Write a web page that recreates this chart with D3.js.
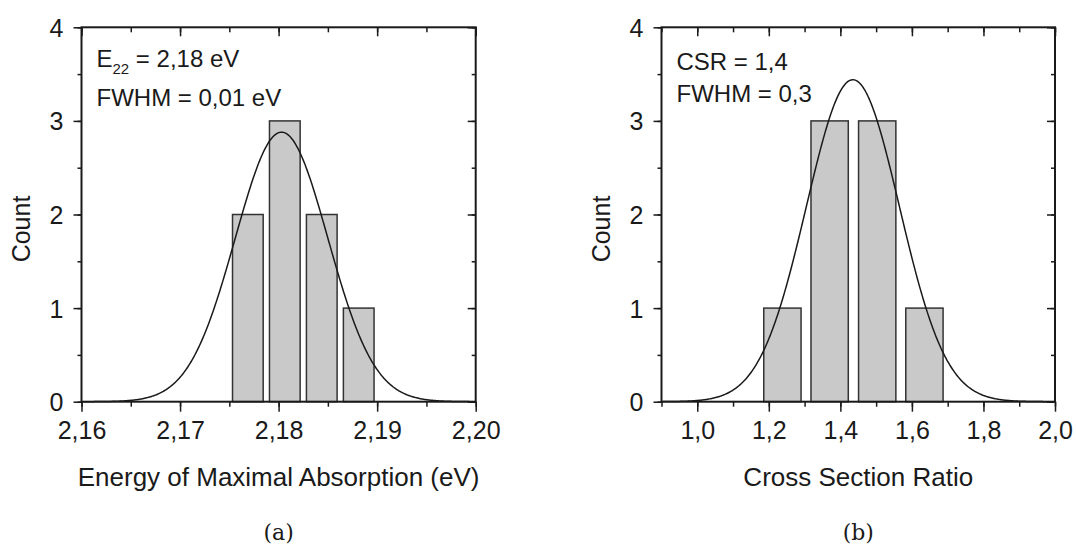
<!DOCTYPE html>
<html>
<head>
<meta charset="utf-8">
<script src="https://cdn.jsdelivr.net/npm/d3@7"></script>
<style>
  body { margin: 0; background: #fff; }
  svg { display: block; }
  .axis text { font-family: "Liberation Sans", Arial, sans-serif; font-size: 25px; fill: #1a1a1a; }
  .axis line { stroke: #1a1a1a; stroke-width: 1.5px; }
  .axis path { display: none; }
</style>
</head>
<body>
<div id="chart"></div>
<script>
// histogram (a): energy of maximal absorption
const energyBins = [2.17688, 2.18063, 2.18438, 2.18813];   // bin centres (eV)
const energyCounts = [2, 3, 2, 1];
const energyTicks = [2.16, 2.17, 2.18, 2.19, 2.20];
const energyFit = [2.1803, 2.88, 0.0047];   // gauss fit: centre, height, sigma

// histogram (b): cross section ratio
const ratioBins = [1.238, 1.370, 1.503, 1.635];
const ratioCounts = [1, 3, 3, 1];
const ratioTicks = [1.0, 1.2, 1.4, 1.6, 1.8, 2.0];
const ratioFit = [1.435, 3.44, 0.13];

const countTicks = [0, 1, 2, 3, 4];

const width = 1076, height = 550;

const svg = d3.select("#chart")
    .append("svg")
    .attr("width", width)
    .attr("height", height);

function drawPanel(p) {
    const x = d3.scaleLinear().domain(p.domain).range([p.left, p.right]);
    const y = d3.scaleLinear().domain([0, 4]).range([401.7, 27.3]);
    const g = svg.append("g");

    // bars
    const step = p.bins[1] - p.bins[0];
    const bw = step * p.barFrac;
    g.selectAll("rect.bar")
        .data(p.bins.map((b, i) => ({ b: b, c: p.counts[i] })))
        .enter()
        .append("rect")
        .attr("class", "bar")
        .attr("x", d => x(d.b - bw / 2))
        .attr("width", d => x(d.b + bw / 2) - x(d.b - bw / 2))
        .attr("y", d => y(d.c))
        .attr("height", d => y(0) - y(d.c))
        .attr("fill", "#c9c9c9")
        .attr("stroke", "#333")
        .attr("stroke-width", 1.5);

    // gaussian fit line
    const [c, h, s] = p.fit;
    const xs = d3.range(0, 401).map(i => p.domain[0] + (p.domain[1] - p.domain[0]) * i / 400);
    const line = d3.line()
        .x(d => x(d))
        .y(d => y(h * Math.exp(-((d - c) ** 2) / (2 * s * s))));
    g.append("path")
        .datum(xs)
        .attr("d", line)
        .attr("fill", "none")
        .attr("stroke", "#1a1a1a")
        .attr("stroke-width", 1.5);

    const fmt = d => d3.format(p.fmt)(d).replace(".", ",");
    const minorX = d3.range(p.domain[0], p.domain[1] + p.minorStep / 2, p.minorStep);
    const minorY = d3.range(0, 4.01, 0.5);

    // bottom axis
    g.append("g").attr("class", "axis")
        .attr("transform", `translate(0,${y(0)})`)
        .call(d3.axisBottom(x).tickValues(minorX).tickSize(5).tickFormat(""));
    const bx = g.append("g").attr("class", "axis")
        .attr("transform", `translate(0,${y(0)})`)
        .call(d3.axisBottom(x).tickValues(p.ticks).tickSize(10).tickFormat(fmt));
    bx.selectAll("text").attr("y", 20).attr("dy", "0.71em");

    // top axis (ticks inward)
    g.append("g").attr("class", "axis")
        .attr("transform", `translate(0,${y(4)})`)
        .call(d3.axisTop(x).tickValues(minorX).tickSize(-5).tickFormat(""));
    g.append("g").attr("class", "axis")
        .attr("transform", `translate(0,${y(4)})`)
        .call(d3.axisTop(x).tickValues(p.ticks).tickSize(-9).tickFormat(""));

    // left axis
    g.append("g").attr("class", "axis")
        .attr("transform", `translate(${p.left},0)`)
        .call(d3.axisLeft(y).tickValues(minorY).tickSize(4).tickFormat(""));
    const ly = g.append("g").attr("class", "axis")
        .attr("transform", `translate(${p.left},0)`)
        .call(d3.axisLeft(y).tickValues(countTicks).tickSize(8).tickFormat(d3.format("d")));
    ly.selectAll("text").attr("x", -18).attr("dy", "0.36em");

    // right axis (ticks inward)
    g.append("g").attr("class", "axis")
        .attr("transform", `translate(${p.right},0)`)
        .call(d3.axisRight(y).tickValues(minorY).tickSize(-4).tickFormat(""));
    g.append("g").attr("class", "axis")
        .attr("transform", `translate(${p.right},0)`)
        .call(d3.axisRight(y).tickValues(countTicks).tickSize(-8).tickFormat(""));

    // frame
    g.append("rect")
        .attr("x", p.left).attr("y", y(4))
        .attr("width", p.right - p.left).attr("height", y(0) - y(4))
        .attr("fill", "none").attr("stroke", "#1a1a1a").attr("stroke-width", 2);

    // axis titles
    g.append("text")
        .attr("x", (p.left + p.right) / 2).attr("y", 486)
        .attr("text-anchor", "middle")
        .style("font-family", "Liberation Sans, Arial, sans-serif")
        .style("font-size", "26px").style("fill", "#1a1a1a")
        .text(p.xTitle);
    g.append("text")
        .attr("transform", `translate(${p.left - 52},229) rotate(-90)`)
        .attr("text-anchor", "middle")
        .style("font-family", "Liberation Sans, Arial, sans-serif")
        .style("font-size", "25px").style("fill", "#1a1a1a")
        .text("Count");

    // annotation
    const note = g.append("g")
        .style("font-family", "Liberation Sans, Arial, sans-serif")
        .style("font-size", "24px").style("fill", "#1a1a1a");
    p.note(note);

    // caption
    g.append("text")
        .attr("x", (p.left + p.right) / 2).attr("y", 540)
        .attr("text-anchor", "middle")
        .style("font-family", "DejaVu Serif, Liberation Serif, serif")
        .style("font-size", "22px").style("fill", "#1a1a1a")
        .text(p.caption);
}

drawPanel({
    left: 81.5, right: 475.7,
    domain: [2.16, 2.20],
    bins: energyBins, counts: energyCounts, fit: energyFit,
    ticks: energyTicks, minorStep: 0.005, fmt: ".2f", barFrac: 0.83,
    xTitle: "Energy of Maximal Absorption (eV)",
    caption: "(a)",
    note: n => {
        const t1 = n.append("text").attr("x", 96.5).attr("y", 67);
        t1.append("tspan").text("E");
        t1.append("tspan").attr("dy", 7).style("font-size", "15px").text("22");
        t1.append("tspan").attr("dy", -7).text(" = 2,18 eV");
        n.append("text").attr("x", 96.5).attr("y", 106).text("FWHM = 0,01 eV");
    }
});

drawPanel({
    left: 661.5, right: 1055,
    domain: [0.9, 2.0],
    bins: ratioBins, counts: ratioCounts, fit: ratioFit,
    ticks: ratioTicks, minorStep: 0.1, fmt: ".1f", barFrac: 0.79,
    xTitle: "Cross Section Ratio",
    caption: "(b)",
    note: n => {
        n.append("text").attr("x", 676.5).attr("y", 70).text("CSR = 1,4");
        n.append("text").attr("x", 676.5).attr("y", 102).text("FWHM = 0,3");
    }
});
</script>
</body>
</html>
